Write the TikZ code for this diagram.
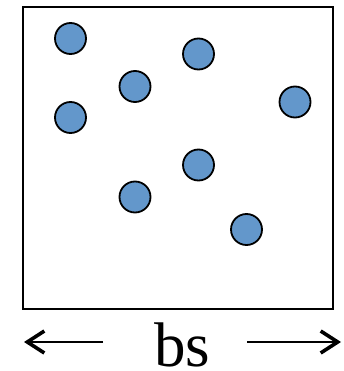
\documentclass[tikz,border=0pt]{standalone}
\usepackage{fontspec}
\setmainfont{Liberation Serif}
\usetikzlibrary{arrows.meta}
\definecolor{dotblue}{RGB}{99,151,203}
\begin{document}
\begin{tikzpicture}[x=1pt,y=-1pt,
  dot/.style={circle,draw=black,line width=1.8pt,fill=dotblue,minimum size=31pt,inner sep=0pt},
  dimarrow/.style={line width=2.4pt,-{Straight Barb[length=17pt,width=22pt,line width=3.6pt]}}]
\useasboundingbox (0,0) rectangle (343,371);
\node[draw=black,line width=2pt,minimum width=310pt,minimum height=302pt,inner sep=0pt] (box) at (177.5,158) {};
\node[dot] (c1) at (70.5,38.5) {};
\node[dot] (c2) at (198.5,54) {};
\node[dot] (c3) at (135,86.5) {};
\node[dot] (c4) at (295,102) {};
\node[dot] (c5) at (70.5,117.5) {};
\node[dot] (c6) at (198.5,165) {};
\node[dot] (c7) at (135,197) {};
\node[dot] (c8) at (246.5,229.5) {};
\node[font=\fontsize{63}{63}\selectfont,inner sep=0pt,anchor=base] (lbl) at (182.5,366.5) {bs};
\coordinate (la) at (103,342);
\coordinate (lb) at (24,342);
\coordinate (ra) at (247,342);
\coordinate (rb) at (341,342);
\draw[dimarrow] (la) -- (lb);
\draw[dimarrow] (ra) -- (rb);
\end{tikzpicture}
\end{document}
